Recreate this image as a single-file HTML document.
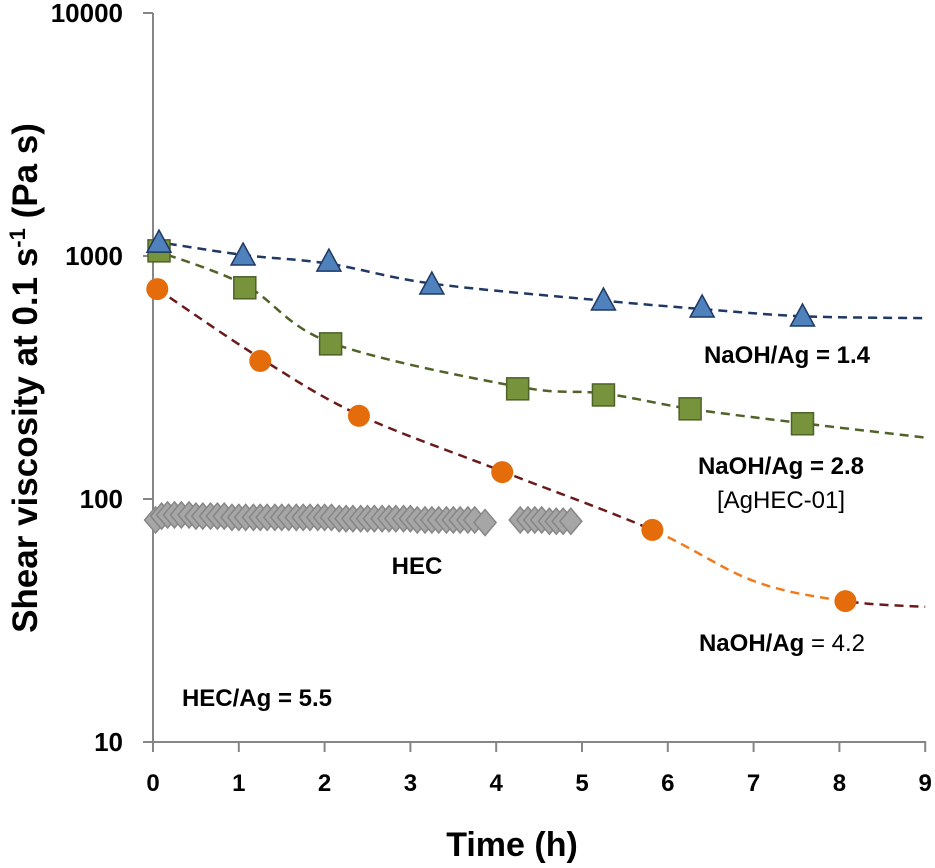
<!DOCTYPE html>
<html><head><meta charset="utf-8"><style>
html,body{margin:0;padding:0;background:#fff;}
svg{display:block;font-family:"Liberation Sans",Arial,sans-serif;}
</style></head><body>
<svg id="chart" width="935" height="868" viewBox="0 0 935 868">
<defs>
<clipPath id="clipRed"><rect x="0" y="0" width="652" height="868"/></clipPath>
<clipPath id="clipOrange"><rect x="652" y="0" width="196" height="868"/></clipPath>
<clipPath id="clipRed2"><rect x="848" y="0" width="100" height="868"/></clipPath>
</defs>
<g id="axes"></g>
<g id="fits"></g>
<g id="marks"></g>
<text x="787" y="363" text-anchor="middle" font-size="24" font-weight="bold">NaOH/Ag = 1.4</text>
<text x="781" y="474" text-anchor="middle" font-size="24" font-weight="bold">NaOH/Ag = 2.8</text>
<text x="781" y="508" text-anchor="middle" font-size="24">[AgHEC-01]</text>
<text x="782" y="651" text-anchor="middle" font-size="24"><tspan font-weight="bold">NaOH/Ag</tspan> = 4.2</text>
<text x="417" y="574" text-anchor="middle" font-size="24" font-weight="bold">HEC</text>
<text x="257" y="706" text-anchor="middle" font-size="24" font-weight="bold">HEC/Ag = 5.5</text>
<text x="512" y="856" text-anchor="middle" font-size="34" font-weight="bold">Time (h)</text>
<text transform="translate(37,378) rotate(-90)" text-anchor="middle" font-size="35" font-weight="bold">Shear viscosity at 0.1 s<tspan dy="-12" font-size="22">-1</tspan><tspan dy="12"> (Pa s)</tspan></text>
</svg>
<script>
const xTicks=[0,1,2,3,4,5,6,7,8,9];
const yTicks=[10,100,1000,10000];
const triT=[0.07,1.05,2.05,3.25,5.25,6.4,7.57];
const triV=[1130,1000,944,760,653,611,561];
const triFitT=[0,1.05,2.05,3.25,5.25,6.4,7.57,9];
const triFitV=[1150,1010,930,770,655,605,565,555];
const sqT=[0.07,1.07,2.07,4.25,5.25,6.26,7.57];
const sqV=[1050,740,435,284,268,235,204];
const sqFitT=[0,1.07,2.07,4.25,5.25,6.26,7.57,9];
const sqFitV=[1060,760,440,290,272,235,205,179];
const cirT=[0.05,1.25,2.4,4.07,5.82,8.07];
const cirV=[731,370,220,129,74.6,38];
const cirFitT=[0.05,1.25,2.4,4.07,5.82,7,8.07,9];
const cirFitV=[731,380,222,130,74.6,46,38,36];
const hecT=[0.03,0.1,0.17,0.25,0.33,0.42,0.5,0.58,0.67,0.75,0.83,0.92,1.0,1.08,1.17,1.25,1.33,1.42,1.5,1.58,1.67,1.75,1.83,1.92,2.0,2.08,2.17,2.25,2.33,2.42,2.5,2.58,2.67,2.75,2.83,2.92,3.0,3.08,3.17,3.25,3.33,3.42,3.5,3.58,3.67,3.75,3.87,4.28,4.37,4.45,4.53,4.62,4.7,4.78,4.87];
const hecV=[82,85,86,86,86,86,85,85,85,85,85,84,84,84,84,84,84,84,84,84,84,84,84,84,84,84,83,83,83,83,83,83,83,83,83,83,83,82,82,82,82,82,82,82,82,82,80,82,82,82,82,81,81,81,81];

const X0=153,XS=85.8,YTOP=13,DEC=243;
const sx=t=>X0+t*XS;
const sy=v=>YTOP+(4-Math.log10(v))*DEC;
const NS="http://www.w3.org/2000/svg";
function mk(tag,attrs,parent){const e=document.createElementNS(NS,tag);for(const k in attrs)e.setAttribute(k,attrs[k]);parent.appendChild(e);return e;}
const axes=document.getElementById('axes'),fits=document.getElementById('fits'),marks=document.getElementById('marks');

let a=mk('line',{x1:X0,y1:YTOP,x2:X0,y2:sy(10),stroke:'#868686','stroke-width':2},axes);


a=mk('line',{x1:X0,y1:sy(10),x2:sx(9)+1,y2:sy(10),stroke:'#868686','stroke-width':2},axes);


yTicks.forEach(v=>{
 const t=mk('line',{x1:X0-10,y1:sy(v),x2:X0,y2:sy(v),stroke:'#868686','stroke-width':2},axes);
 
 
 const l=mk('text',{x:123,y:sy(v)+9,'text-anchor':'end','font-size':26,'font-weight':'bold'},axes);
 l.textContent=v;
 
 
});
xTicks.forEach(v=>{
 const t=mk('line',{x1:sx(v),y1:sy(10),x2:sx(v),y2:sy(10)+10,stroke:'#868686','stroke-width':2},axes);
 
 
 const l=mk('text',{x:sx(v),y:791,'text-anchor':'middle','font-size':24,'font-weight':'bold'},axes);
 l.textContent=v;
 
 
});

function smooth(T,V){
 const p=T.map((t,i)=>[sx(t),sy(V[i])]);
 let d='M'+p[0][0]+','+p[0][1];
 for(let i=0;i<p.length-1;i++){
  const p0=p[i-1]||p[i],p1=p[i],p2=p[i+1],p3=p[i+2]||p2;
  const c1=[p1[0]+(p2[0]-p0[0])/6,p1[1]+(p2[1]-p0[1])/6];
  const c2=[p2[0]-(p3[0]-p1[0])/6,p2[1]-(p3[1]-p1[1])/6];
  d+=` C${c1[0]},${c1[1]} ${c2[0]},${c2[1]} ${p2[0]},${p2[1]}`;
 }
 return d;
}
let f=mk('path',{d:smooth(triFitT,triFitV),fill:'none',stroke:'#1f3864','stroke-width':2.5,'stroke-dasharray':'9,6'},fits);


f=mk('path',{d:smooth(sqFitT,sqFitV),fill:'none',stroke:'#4f6228','stroke-width':2.5,'stroke-dasharray':'9,6'},fits);


const cd=smooth(cirFitT,cirFitV);
f=mk('path',{d:cd,fill:'none',stroke:'#6b1a1a','stroke-width':2.5,'stroke-dasharray':'9,6','clip-path':'url(#clipRed)'},fits);


f=mk('path',{d:cd,fill:'none',stroke:'#f07b1e','stroke-width':2.5,'stroke-dasharray':'9,6','clip-path':'url(#clipOrange)'},fits);


f=mk('path',{d:cd,fill:'none',stroke:'#6b1a1a','stroke-width':2.5,'stroke-dasharray':'9,6','clip-path':'url(#clipRed2)'},fits);



hecT.forEach((t,i)=>{
 const x=sx(t),y=sy(hecV[i]);
 const m=mk('polygon',{points:`${x},${y-13} ${x+11},${y} ${x},${y+13} ${x-11},${y}`,fill:'#a6a6a6',stroke:'#868686','stroke-width':1.5},marks);
 
 
});
cirT.forEach((t,i)=>{
 const m=mk('circle',{cx:sx(t),cy:sy(cirV[i]),r:11,fill:'#e46c0a'},marks);
 
 
});
sqT.forEach((t,i)=>{
 const x=sx(t),y=sy(sqV[i]);
 const m=mk('rect',{x:x-11,y:y-11,width:22,height:22,fill:'#77933c',stroke:'#4f6228','stroke-width':1.5},marks);
 
 
});
triT.forEach((t,i)=>{
 const x=sx(t),y=sy(triV[i]);
 const m=mk('polygon',{points:`${x},${y-13} ${x+12},${y+9} ${x-12},${y+9}`,fill:'#4f81bd',stroke:'#1f3864','stroke-width':1.5},marks);
 
 
});
</script>
</body></html>
